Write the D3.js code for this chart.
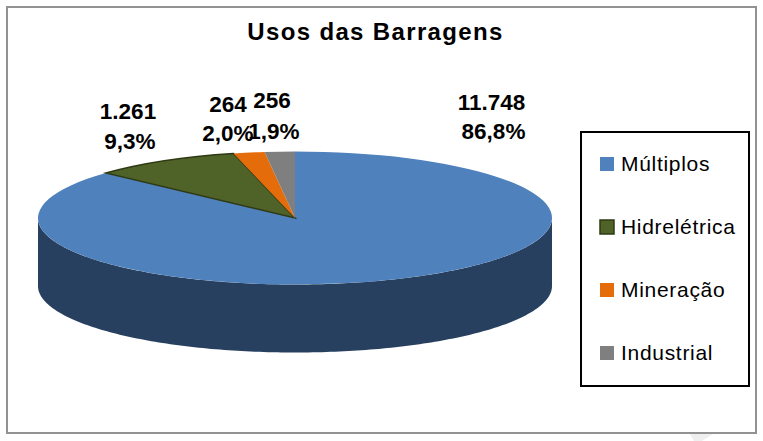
<!DOCTYPE html>
<html><head><meta charset="utf-8">
<script src="https://cdn.jsdelivr.net/npm/d3@7"></script>
<style>html,body{margin:0;padding:0;background:#fff}svg{display:block;font-family:"Liberation Sans",Arial,sans-serif}</style>
</head><body><svg id="c" width="763" height="441"></svg>
<script>
const title = "Usos das Barragens";
const categories = ["Múltiplos","Hidrelétrica","Mineração","Industrial"];
const values = [11748,1261,264,256];
const valueLabels = ["11.748","1.261","264","256"];
const percentLabels = ["86,8%","9,3%","2,0%","1,9%"];
const colors = ["#4f81bd","#4f6228","#e46c0a","#7f7f7f"];
const strokes = ["none","#2f3a14","none","none"];
const sideColor = "#28405f";

const W=763,H=441, cx=295, cy=218, rx=257, ry=66.5, depth=68;
const svg=d3.select("#c");

svg.append("path").attr("d",d3.line()([[690,434],[713,434],[702,441],[694,441]])).attr("fill","#efefef");
svg.append("rect").attr("x",7).attr("y",7).attr("width",749).attr("height",426)
  .attr("fill","#fff").attr("stroke","#929292").attr("stroke-width",2);

svg.append("text").text(title).attr("x",375.5).attr("y",40).attr("text-anchor","middle")
  .attr("font-size",24).attr("font-weight","bold").attr("letter-spacing",1.35).attr("fill","#000");

const arcs=d3.pie().sort(null).value(d=>d)(values);
const side=d3.area()
  .x(a=>cx+rx*Math.sin(a))
  .y0(a=>cy-ry*Math.cos(a))
  .y1(a=>cy-ry*Math.cos(a)+depth);
svg.append("path").attr("d",side(d3.range(90,270.5,1).map(d=>d*Math.PI/180))).attr("fill",sideColor);

const arc=d3.arc().innerRadius(0).outerRadius(rx);
svg.append("g").attr("transform",`translate(${cx},${cy}) scale(1,${ry/rx})`)
  .selectAll("path").data(arcs).join("path")
  .attr("d",arc)
  .attr("fill",(d,i)=>colors[i])
  .attr("stroke",(d,i)=>strokes[i])
  .attr("stroke-width",1.5)
  .attr("vector-effect","non-scaling-stroke");

const labelPos=[[491.5,110,139],[128,119,149],[228,112,141],[272,108,139]];
const lab=svg.append("g").attr("font-weight","bold").attr("font-size",22.5).attr("text-anchor","middle").attr("fill","#000");
values.forEach((v,i)=>{
  const [x,y1,y2]=labelPos[i];
  lab.append("text").attr("x",x).attr("y",y1).text(valueLabels[i]);
  lab.append("text").attr("x",x+(i===3?2:i===1?2:i===0?2:0)).attr("y",y2).text(percentLabels[i]);
});

svg.append("rect").attr("x",581).attr("y",132).attr("width",168).attr("height",254)
  .attr("fill","#fff").attr("stroke","#000").attr("stroke-width",2);
const ly=d3.scalePoint().domain(categories).range([164,353]);
const leg=svg.append("g").selectAll("g").data(categories).join("g").attr("transform",d=>`translate(0,${ly(d)})`);
leg.append("rect").attr("x",600).attr("y",-7).attr("width",14).attr("height",14)
  .attr("fill",(d,i)=>colors[i]).attr("stroke",(d,i)=>strokes[i]).attr("stroke-width",1.5);
leg.append("text").attr("x",621).attr("y",7).attr("font-size",21).attr("letter-spacing",0.7).attr("fill","#000").text(d=>d);
</script></body></html>
